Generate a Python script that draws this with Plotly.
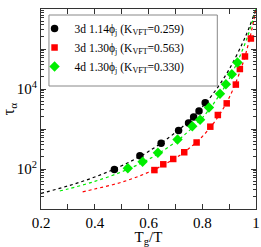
import plotly.graph_objects as go

# ---- data ----
black_x = [0.473, 0.568, 0.647, 0.712, 0.749, 0.768, 0.788, 0.811]
black_tau = [97, 214, 439, 917, 1413, 2000, 2818, 4550]

red_x = [0.622, 0.655, 0.692, 0.733, 0.779, 0.830, 0.858, 0.891, 0.925, 0.940, 0.959, 0.981]
red_tau = [94, 131, 178, 262, 460, 1143, 2239, 4375, 12900, 31600, 65000, 183000]

green_x = [0.523, 0.578, 0.635, 0.708, 0.763, 0.792, 0.825, 0.866, 0.888, 0.910, 0.931]
green_tau = [104, 152, 255, 547, 1170, 1700, 3450, 7640, 13100, 23300, 46000]

# dashed VFT fit curves
black_fit_x = [0.2, 0.3, 0.4, 0.5, 0.6, 0.7, 0.75, 0.8, 0.85, 0.9, 0.95, 0.975, 1.0]
black_fit_tau = [24.5, 37.7, 63, 120, 275, 813, 1585, 3548, 9333, 30900, 141000, 351000, 1e6]
green_fit_x = [0.27, 0.3, 0.4, 0.5, 0.6, 0.7, 0.75, 0.8, 0.85, 0.9, 0.95, 0.975, 1.0]
green_fit_tau = [28.2, 31.6, 49, 85, 174, 468, 891, 1905, 5129, 17800, 95500, 275000, 1e6]
red_fit_x = [0.355, 0.4, 0.5, 0.6, 0.7, 0.75, 0.8, 0.85, 0.9, 0.95, 0.975, 0.99, 1.0]
red_fit_tau = [26.9, 31.6, 46.8, 83, 186, 324, 646, 1660, 6026, 41700, 166000, 457000, 1e6]

names = ["3d 1.14ϕ<sub>j</sub> (K<sub>VFT</sub>=0.259)",
         "3d 1.30ϕ<sub>j</sub> (K<sub>VFT</sub>=0.563)",
         "4d 1.30ϕ<sub>j</sub> (K<sub>VFT</sub>=0.330)"]

x_tickvals = [0.2, 0.3, 0.4, 0.5, 0.6, 0.7, 0.8, 0.9, 1.0]
x_ticktext = ["0.2", "", "0.4", "", "0.6", "", "0.8", "", "1"]
y_tickvals = [1e1, 1e2, 1e3, 1e4, 1e5, 1e6]
y_ticktext = ["", "10<sup>2</sup>", "", "10<sup>4</sup>", "", "10<sup>6</sup>"]
y_minor = [m * 10 ** d for d in range(1, 6) for m in range(2, 10)]

BLACK = "#000000"
RED = "#ff0000"
GREEN = "#00ee00"
FONT = "Liberation Serif"

fig = go.Figure()
dash = "3px,3px"
for fx, fy, c in [(black_fit_x, black_fit_tau, BLACK),
                  (green_fit_x, green_fit_tau, GREEN),
                  (red_fit_x, red_fit_tau, RED)]:
    fig.add_trace(go.Scatter(x=fx, y=fy, mode="lines", line=dict(color=c, width=1.2, dash=dash, shape="spline"),
                             showlegend=False, hoverinfo="skip"))

fig.add_trace(go.Scatter(x=black_x, y=black_tau, mode="markers", name=names[0],
                         marker=dict(symbol="circle", size=7.5, color=BLACK)))
fig.add_trace(go.Scatter(x=red_x, y=red_tau, mode="markers", name=names[1],
                         marker=dict(symbol="square", size=6.5, color=RED)))
fig.add_trace(go.Scatter(x=green_x, y=green_tau, mode="markers", name=names[2],
                         marker=dict(symbol="diamond", size=8, color=GREEN)))

# invisible traces to carry minor-tick axes
fig.add_trace(go.Scatter(x=[0.5], y=[100], yaxis="y2", mode="markers", marker=dict(opacity=0),
                         showlegend=False, hoverinfo="skip"))
fig.add_trace(go.Scatter(x=[0.5], y=[100], yaxis="y3", mode="markers", marker=dict(opacity=0),
                         showlegend=False, hoverinfo="skip"))

axis_font = dict(family=FONT, size=15, color="black")
fig.update_layout(
    width=261, height=247,
    margin=dict(l=41, r=5, t=9, b=38, autoexpand=False),
    paper_bgcolor="white", plot_bgcolor="white",
    font=dict(family=FONT, size=14, color="black"),
    showlegend=True,
    legend=dict(x=-0.03, y=0.975, xanchor="left", yanchor="top",
                borderwidth=0, bgcolor="rgba(0,0,0,0)",
                font=dict(family=FONT, size=11.5), tracegroupgap=0,
                itemwidth=30),
    shapes=[dict(type="rect", xref="paper", yref="paper", x0=0.037, x1=0.82, y0=0.615, y1=0.97,
                 line=dict(color="#888888", width=1), fillcolor="white", layer="below")],
    xaxis=dict(range=[0.2, 1.0], tickvals=x_tickvals, ticktext=x_ticktext, automargin=False,
               ticks="inside", ticklen=5, tickcolor="#333", showline=True, linecolor="#333",
               linewidth=1, mirror="ticks", showgrid=False, zeroline=False,
               tickfont=axis_font,
               title=dict(text="T<sub>g</sub>/T", font=dict(family=FONT, size=15), standoff=0)),
    yaxis=dict(type="log", range=[1, 6], tickvals=y_tickvals, ticktext=y_ticktext, automargin=False,
               ticks="inside", ticklen=5, tickcolor="#333", showline=True, linecolor="#333",
               linewidth=1, mirror="ticks", showgrid=False, zeroline=False,
               tickfont=axis_font,
               title=dict(text="τ<sub>α</sub>", font=dict(family=FONT, size=16), standoff=0)),
    yaxis2=dict(type="log", range=[1, 6], overlaying="y", anchor="x", side="left", automargin=False,
                tickvals=y_minor, ticks="inside", ticklen=3, tickcolor="#333",
                showticklabels=False, showgrid=False, zeroline=False, showline=False),
    yaxis3=dict(type="log", range=[1, 6], overlaying="y", anchor="x", side="right", automargin=False,
                tickvals=y_minor, ticks="inside", ticklen=3, tickcolor="#333",
                showticklabels=False, showgrid=False, zeroline=False, showline=False),
)

fig.write_html("out.html", config={"displayModeBar": False},
               post_script="document.body.style.margin='0';document.body.style.overflow='hidden';")
